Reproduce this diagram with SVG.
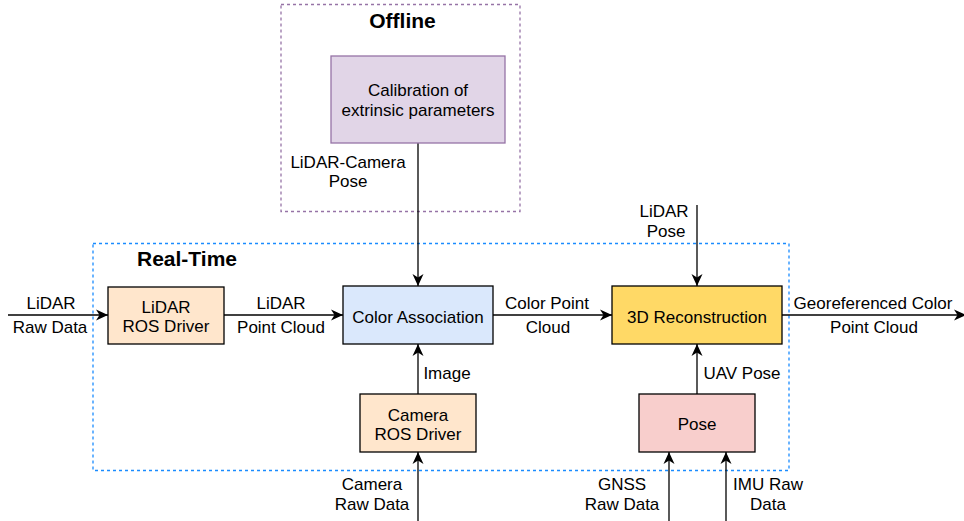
<svg xmlns="http://www.w3.org/2000/svg" width="964" height="521" viewBox="0 0 964 521">
<defs>
<marker id="arr" markerUnits="userSpaceOnUse" markerWidth="13" markerHeight="12" refX="12" refY="6" orient="auto">
<path d="M0,0.5 L12,6 L0,11.5 L3.5,6 z" fill="#000"/>
</marker>
<style>
text{font-family:"Liberation Sans",Arial,Helvetica,sans-serif;font-size:17px;fill:#000;text-anchor:middle}
.title{font-weight:bold;font-size:21px}
.box{stroke:#000;stroke-width:1.3}
.edge{stroke:#000;stroke-width:1.3;fill:none;marker-end:url(#arr)}
</style>
</defs>
<rect width="964" height="521" fill="#fff"/>

<g id="offline-group">
<rect x="281" y="4.5" width="239" height="207" fill="none" stroke="#9673a6" stroke-width="1.3" stroke-dasharray="3,3"/>
<text class="title" x="402.5" y="27.5">Offline</text>
</g>
<g id="realtime-group">
<rect x="93" y="243.5" width="696" height="227" fill="none" stroke="#1a8cff" stroke-width="1.3" stroke-dasharray="3,3"/>
<text class="title" x="187" y="266">Real-Time</text>
</g>

<g id="connectors">
<line class="edge" x1="418" y1="143" x2="418" y2="286"/>
<text x="348" y="168">LiDAR-Camera</text>
<text x="348" y="187">Pose</text>

<line class="edge" x1="8" y1="315" x2="108" y2="315"/>
<text x="51" y="309">LiDAR</text>
<text x="50" y="333">Raw Data</text>

<line class="edge" x1="224" y1="315" x2="343" y2="315"/>
<text x="281" y="309">LiDAR</text>
<text x="281" y="333">Point Cloud</text>

<line class="edge" x1="418" y1="394" x2="418" y2="344"/>
<text x="447" y="379">Image</text>

<line class="edge" x1="418" y1="521" x2="418" y2="452"/>
<text x="372" y="490">Camera</text>
<text x="372" y="510">Raw Data</text>

<line class="edge" x1="493" y1="315" x2="612" y2="315"/>
<text x="547" y="309">Color Point</text>
<text x="548" y="333">Cloud</text>

<line class="edge" x1="697" y1="205" x2="697" y2="286"/>
<text x="664" y="217">LiDAR</text>
<text x="666" y="237">Pose</text>

<line class="edge" x1="697" y1="394" x2="697" y2="344"/>
<text x="742" y="379">UAV Pose</text>

<line class="edge" x1="669" y1="521" x2="669" y2="452"/>
<text x="622" y="490">GNSS</text>
<text x="622" y="510">Raw Data</text>

<line class="edge" x1="726" y1="521" x2="726" y2="452"/>
<text x="768" y="490">IMU Raw</text>
<text x="768" y="510">Data</text>

<line class="edge" x1="782" y1="315" x2="966" y2="315"/>
<text x="873" y="309">Georeferenced Color</text>
<text x="874" y="333">Point Cloud</text>
</g>

<g id="calibration">
<rect x="331" y="56" width="174" height="87" fill="#e1d5e7" stroke="#9673a6" stroke-width="1.3"/>
<text x="418" y="96">Calibration of</text>
<text x="418" y="116">extrinsic parameters</text>
</g>
<g id="lidar-driver">
<rect class="box" x="108" y="287" width="116" height="57" fill="#ffe6cc"/>
<text x="166" y="313">LiDAR</text>
<text x="166" y="332">ROS Driver</text>
</g>
<g id="color-association">
<rect class="box" x="343" y="286" width="150" height="58" fill="#dae8fc"/>
<text x="418" y="322.5">Color Association</text>
</g>
<g id="camera-driver">
<rect class="box" x="360" y="394" width="116" height="58" fill="#ffe6cc"/>
<text x="418" y="420.5">Camera</text>
<text x="418" y="440">ROS Driver</text>
</g>
<g id="reconstruction">
<rect class="box" x="612" y="286" width="170" height="58" fill="#ffd966"/>
<text x="697" y="322.5">3D Reconstruction</text>
</g>
<g id="pose">
<rect class="box" x="639" y="394" width="116" height="58" fill="#f8cecc"/>
<text x="697" y="430">Pose</text>
</g>
</svg>
